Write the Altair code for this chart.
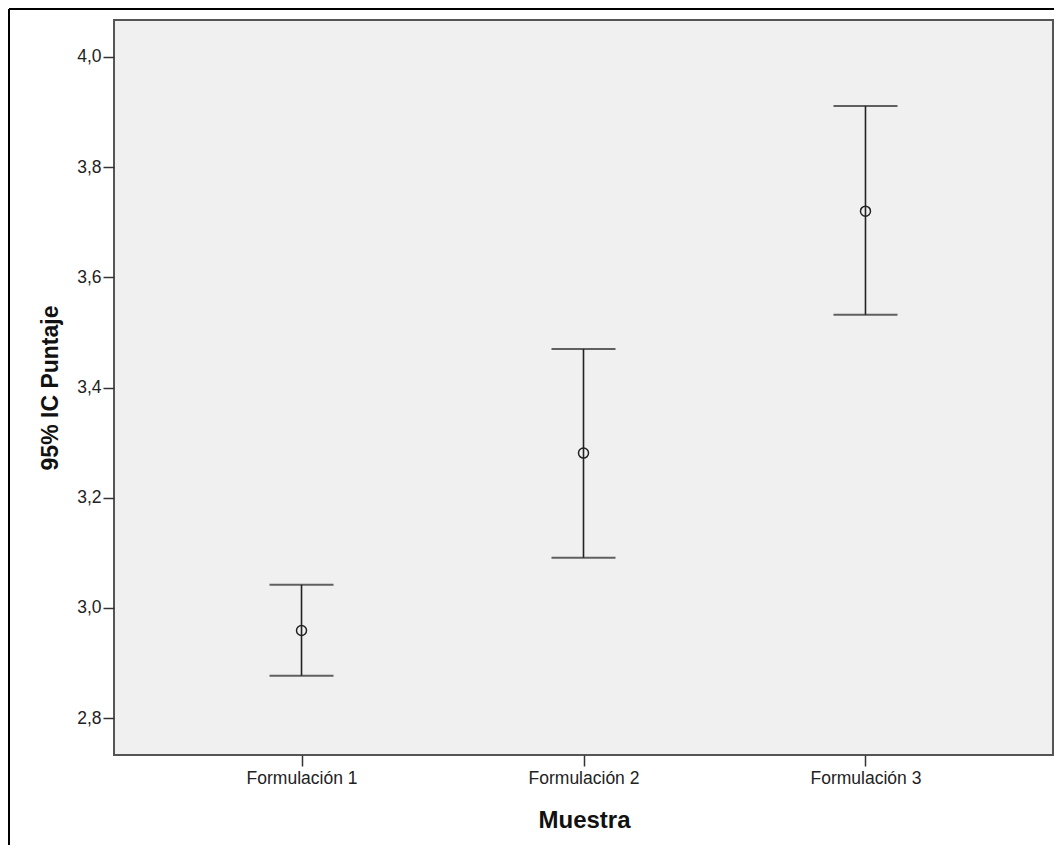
import altair as alt
import pandas as pd

# ---- data ----
muestras = ["Formulación 1", "Formulación 2", "Formulación 3"]
medias = [2.959, 3.281, 3.720]
inferior = [2.877, 3.091, 3.532]
superior = [3.042, 3.470, 3.911]
y_ticks = [2.8, 3.0, 3.2, 3.4, 3.6, 3.8, 4.0]

df = pd.DataFrame({"Muestra": muestras, "media": medias, "lo": inferior, "hi": superior})
one = pd.DataFrame({"k": [0]})

W, H = 939, 735
FONT = "Liberation Sans"
LINE = "#222222"

x_enc = alt.X(
    "Muestra:N",
    sort=muestras,
    scale=alt.Scale(type="point", padding=0.665),
    axis=alt.Axis(
        title="Muestra",
        labelAngle=0,
        labelFontSize=17.5,
        labelFont=FONT,
        labelColor="#222222",
        labelPadding=3,
        tickSize=11,
        tickWidth=1.5,
        tickColor="#333333",
        domain=False,
        titleFontSize=24,
        titleFont=FONT,
        titleFontWeight="bold",
        titleColor="#111111",
        titleX=470,
        titleY=72,
        titleBaseline="alphabetic",
    ),
)

y_scale = alt.Scale(domain=[2.733, 4.067], nice=False, zero=False)

rules = alt.Chart(df).mark_rule(color=LINE, strokeWidth=1.6).encode(
    x=x_enc,
    y=alt.Y(
        "lo:Q",
        scale=y_scale,
        axis=alt.Axis(
            title="95% IC Puntaje",
            values=y_ticks,
            labelExpr="replace(format(datum.value, '.1f'), '.', ',')",
            labelFontSize=17.5,
            labelFont=FONT,
            labelColor="#222222",
            labelPadding=2,
            tickSize=11,
            tickWidth=1.5,
            tickColor="#333333",
            grid=False,
            domain=False,
            titleFontSize=23,
            titleFont=FONT,
            titleFontWeight="bold",
            titleColor="#111111",
            titleX=-57,
            titleY=H / 2,
            titleBaseline="alphabetic",
        ),
    ),
    y2="hi:Q",
)

caps_hi = alt.Chart(df).mark_tick(color=LINE, size=64, thickness=2, orient="horizontal").encode(
    x="Muestra:N", y=alt.Y("hi:Q", scale=y_scale)
)
caps_lo = alt.Chart(df).mark_tick(color=LINE, size=64, thickness=2, orient="horizontal").encode(
    x="Muestra:N", y=alt.Y("lo:Q", scale=y_scale)
)
points = alt.Chart(df).mark_point(
    shape="circle", filled=False, size=100, color=LINE, strokeWidth=1.5, opacity=1
).encode(x="Muestra:N", y=alt.Y("media:Q", scale=y_scale))

# outer frame of the figure (decoration)
border_left = alt.Chart(one).mark_rule(color="#000000", strokeWidth=2).encode(
    x=alt.value(-105), y=alt.value(-11), y2=alt.value(860)
)
border_top = alt.Chart(one).mark_rule(color="#000000", strokeWidth=2).encode(
    x=alt.value(-105), x2=alt.value(960), y=alt.value(-11)
)

chart = (
    alt.layer(rules, caps_hi, caps_lo, points, border_left, border_top)
    .properties(
        width=W,
        height=H,
        autosize=alt.AutoSizeParams(type="none"),
        padding={"left": 106, "top": 12, "right": 1, "bottom": 90},
        background="#ffffff",
    )
    .configure_view(fill="#f0f0f0", stroke="#555555", strokeWidth=2)
)

chart.save("out.html", embed_options={"renderer": "svg", "actions": False})
